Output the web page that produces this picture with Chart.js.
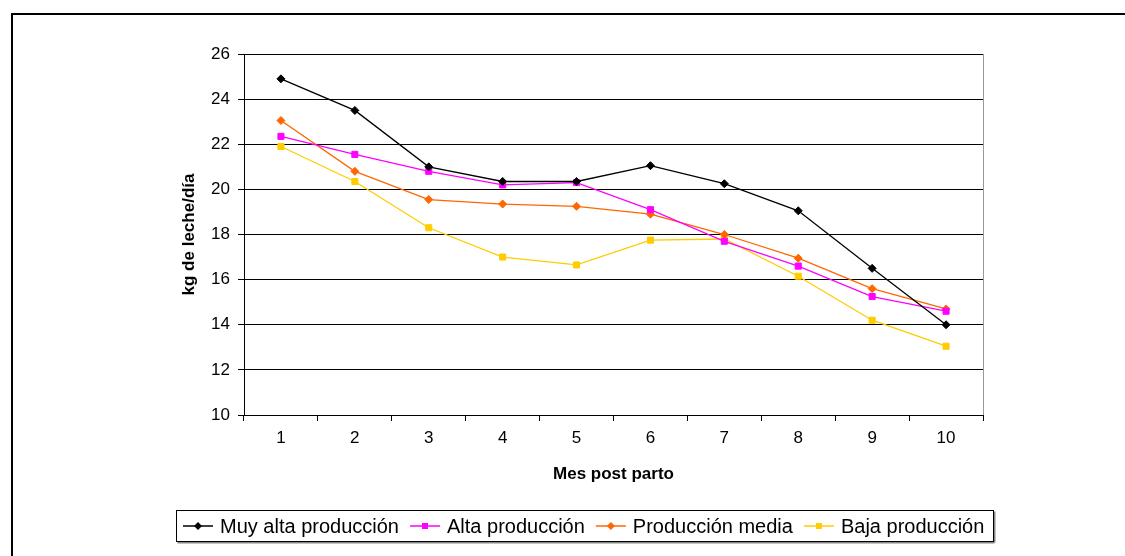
<!DOCTYPE html>
<html>
<head>
<meta charset="utf-8">
<script src="https://cdn.jsdelivr.net/npm/chart.js@4"></script>
<style>
  body { margin: 0; background: #fff; }
  #wrap { width: 1125px; height: 556px; }
</style>
</head>
<body>
<div id="wrap"><canvas id="chart" width="1125" height="556"></canvas></div>
<script>
const months = ['1', '2', '3', '4', '5', '6', '7', '8', '9', '10'];
const muyAlta = [24.9, 23.5, 21.0, 20.35, 20.35, 21.05, 20.25, 19.05, 16.5, 14.0];
const alta = [22.35, 21.55, 20.8, 20.2, 20.3, 19.1, 17.7, 16.6, 15.25, 14.6];
const media = [23.05, 20.8, 19.55, 19.35, 19.25, 18.9, 18.0, 16.95, 15.6, 14.7];
const baja = [21.9, 20.35, 18.3, 17.0, 16.65, 17.75, 17.8, 16.15, 14.2, 13.05];
const seriesNames = ['Muy alta producción', 'Alta producción', 'Producción media', 'Baja producción'];
const seriesColors = ['#000000', '#FF00FF', '#FF6600', '#FFCC00'];
const seriesMarkers = ['rectRot', 'rect', 'rectRot', 'rect'];

const fontFamily = '"Liberation Sans", Arial, sans-serif';

// frame, plot border and the legend box
const framePlugin = {
  id: 'frame',
  afterDraw(chart) {
    const ctx = chart.ctx;
    const area = chart.chartArea;
    ctx.save();
    // outer frame (only left and top visible)
    ctx.strokeStyle = '#000';
    ctx.lineWidth = 2;
    ctx.beginPath();
    ctx.moveTo(12, 560);
    ctx.lineTo(12, 14);
    ctx.lineTo(1130, 14);
    ctx.stroke();

    // right border of plot area
    ctx.strokeStyle = '#999';
    ctx.lineWidth = 1;
    ctx.beginPath();
    ctx.moveTo(Math.round(area.right) + 0.5, area.top);
    ctx.lineTo(Math.round(area.right) + 0.5, area.bottom);
    ctx.stroke();

    // legend
    const bx = 176.5, by = 510.5, bw = 817, bh = 31;
    ctx.fillStyle = '#888';
    ctx.fillRect(bx + 1, by + bh, bw, 2);
    ctx.fillRect(bx + bw, by + 1, 2, bh);
    ctx.fillStyle = '#fff';
    ctx.fillRect(bx, by, bw, bh);
    ctx.strokeStyle = '#000';
    ctx.strokeRect(bx, by, bw, bh);

    ctx.font = '20px ' + fontFamily;
    ctx.textBaseline = 'middle';
    ctx.textAlign = 'left';
    let x = 183;
    const cy = by + bh / 2;
    seriesNames.forEach((name, i) => {
      ctx.strokeStyle = seriesColors[i];
      ctx.lineWidth = 1.5;
      ctx.beginPath();
      ctx.moveTo(x, cy);
      ctx.lineTo(x + 30, cy);
      ctx.stroke();
      ctx.fillStyle = seriesColors[i];
      ctx.beginPath();
      if (seriesMarkers[i] === 'rect') {
        ctx.rect(x + 15 - 3, cy - 3, 6, 6);
      } else {
        ctx.moveTo(x + 15 - 4, cy);
        ctx.lineTo(x + 15, cy - 4);
        ctx.lineTo(x + 15 + 4, cy);
        ctx.lineTo(x + 15, cy + 4);
        ctx.closePath();
      }
      ctx.fill();
      ctx.fillStyle = '#000';
      ctx.fillText(name, x + 37, cy + 1);
      x += 37 + ctx.measureText(name).width + 11;
    });
    ctx.restore();
  }
};

const datasets = [muyAlta, alta, media, baja].map((values, i) => ({
  label: seriesNames[i],
  data: values,
  borderColor: seriesColors[i],
  backgroundColor: seriesColors[i],
  borderWidth: 1.3,
  pointStyle: seriesMarkers[i],
  pointRadius: seriesMarkers[i] === 'rect' ? 4.3 : 4,
  pointBorderWidth: 1,
  tension: 0
}));

new Chart(document.getElementById('chart'), {
  type: 'line',
  data: { labels: months, datasets },
  plugins: [framePlugin],
  options: {
    responsive: false,
    animation: false,
    layout: { padding: { left: 170, top: 54, right: 142, bottom: 71 } },
    plugins: {
      legend: { display: false },
      tooltip: { enabled: false }
    },
    scales: {
      x: {
        offset: true,
        afterFit: s => { s.height = 70; },
        grid: { offset: true, drawOnChartArea: false, drawTicks: true, tickLength: 6, color: '#000' },
        border: { color: '#000', width: 1 },
        ticks: { color: '#000', padding: 7, maxRotation: 0, font: { family: fontFamily, size: 17 } },
        title: {
          display: true,
          text: 'Mes post parto',
          color: '#000',
          padding: { top: 0, bottom: 0 },
          font: { family: fontFamily, size: 17, weight: 'bold' }
        }
      },
      y: {
        min: 10,
        max: 26,
        afterFit: s => { s.width = 74; },
        grid: { color: '#000', lineWidth: 1, tickLength: 6 },
        border: { color: '#000', width: 1 },
        ticks: { stepSize: 2, color: '#000', padding: 8, font: { family: fontFamily, size: 17 } },
        title: {
          display: true,
          text: 'kg de leche/día',
          color: '#000',
          padding: { top: 9, bottom: 0 },
          font: { family: fontFamily, size: 17, weight: 'bold' }
        }
      }
    }
  }
});
</script>
</body>
</html>
